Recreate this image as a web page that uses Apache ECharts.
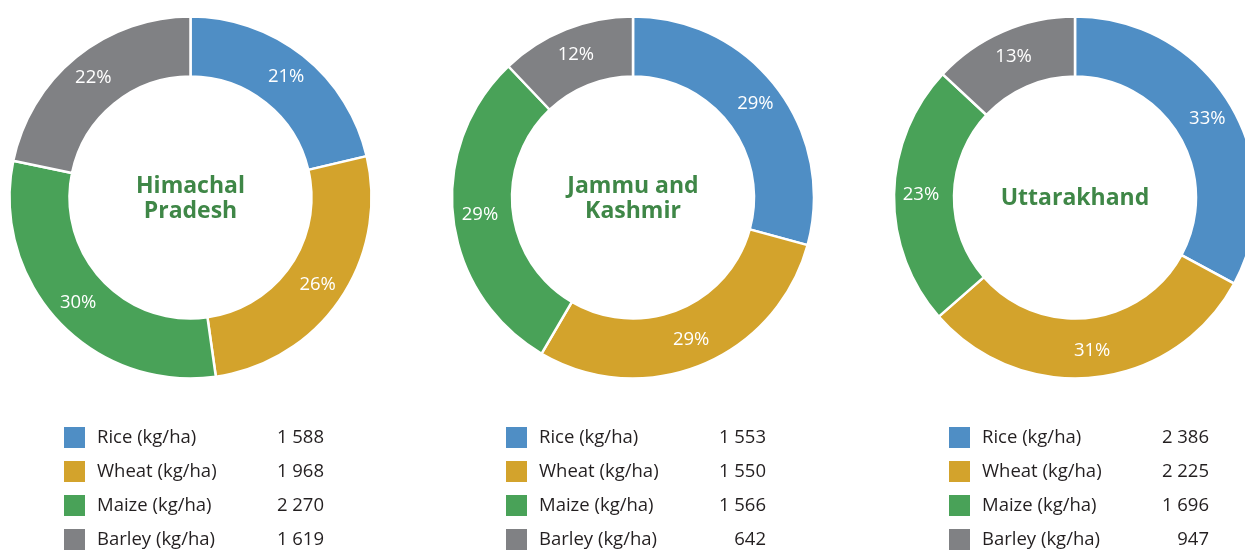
<!DOCTYPE html>
<html>
<head>
<meta charset="utf-8">
<style>
  html, body { margin: 0; padding: 0; background: #ffffff; }
  #chart { width: 1245px; height: 550px; }
</style>
<script src="https://cdn.jsdelivr.net/npm/echarts@6/dist/echarts.min.js"></script>
</head>
<body>
<div id="chart"></div>
<script>
// Crop yields (kg/ha) by state
const crops = ['Rice (kg/ha)', 'Wheat (kg/ha)', 'Maize (kg/ha)', 'Barley (kg/ha)'];
const regionTitles = ['Himachal\nPradesh', 'Jammu and\nKashmir', 'Uttarakhand'];
const himachalPradesh = [1588, 1968, 2270, 1619];
const jammuKashmir = [1553, 1550, 1566, 642];
const uttarakhand = [2386, 2225, 1696, 947];
const cropColors = ['#4f8ec5', '#d3a32c', '#49a258', '#808184'];

const regionValues = [himachalPradesh, jammuKashmir, uttarakhand];
const centersX = [190.5, 633, 1075];
const centerY = 197.5;
const legendLeft = [62, 504, 947];

const FONT = '"Open Sans", "Noto Sans", sans-serif';

function fmtThousands(v) {
  return String(v).replace(/\B(?=(\d{3})+(?!\d))/g, ' ');
}

const series = regionValues.map((vals, r) => {
  const total = vals.reduce((a, b) => a + b, 0);
  return {
    type: 'pie',
    name: regionTitles[r].replace('\n', ' '),
    center: [centersX[r], centerY],
    radius: [121, 181],
    startAngle: 90,
    clockwise: true,
    avoidLabelOverlap: false,
    emphasis: { disabled: true },
    itemStyle: { borderColor: '#ffffff', borderWidth: 2.5 },
    label: {
      show: true,
      position: 'inside',
      color: '#ffffff',
      fontFamily: FONT,
      fontSize: 18.5,
      formatter: p => Math.round(p.value / total * 100) + '%'
    },
    labelLine: { show: false },
    data: crops.map((c, i) => ({
      name: c,
      value: vals[i],
      itemStyle: { color: cropColors[i] }
    }))
  };
});

const legends = regionValues.map((vals, r) => ({
  orient: 'vertical',
  left: legendLeft[r],
  top: 425,
  height: 160,
  padding: 0,
  itemWidth: 23,
  itemHeight: 23,
  itemGap: 9,
  icon: 'rect',
  selectedMode: false,
  data: crops,
  formatter: name => {
    const i = crops.indexOf(name);
    return '{s|}{n|' + name + '}{v|' + fmtThousands(vals[i]) + '}';
  },
  textStyle: {
    fontFamily: FONT,
    fontSize: 18.5,
    color: '#231f20',
    rich: {
      s: { width: 6 },
      n: { width: 150, fontFamily: FONT, fontSize: 18.5, color: '#231f20' },
      v: { width: 77, align: 'right', fontFamily: FONT, fontSize: 18.5, color: '#231f20' }
    }
  }
}));

const titles = regionTitles.map((t, r) => ({
  type: 'text',
  x: centersX[r],
  y: centerY + 1,
  style: {
    text: t,
    fill: '#3f8747',
    font: 'bold 23px ' + FONT,
    textAlign: 'center',
    textVerticalAlign: 'middle',
    lineHeight: 25
  }
}));

const chart = echarts.init(document.getElementById('chart'), null, { renderer: 'canvas' });
chart.setOption({
  backgroundColor: '#ffffff',
  animation: false,
  legend: legends,
  graphic: titles,
  series: series
});
</script>
</body>
</html>
